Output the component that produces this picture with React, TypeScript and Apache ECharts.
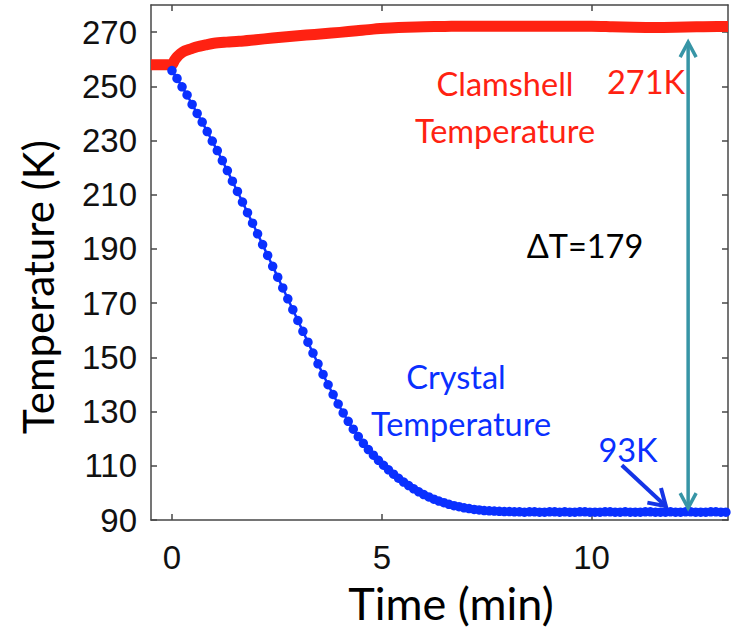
import React, { useEffect, useRef } from "react";
import * as echarts from "echarts";

// ---- Data ----
const xTickValues = [0, 5, 10];
const yTickValues = [90, 110, 130, 150, 170, 190, 210, 230, 250, 270];

// Clamshell temperature (K) vs time (min)
const clamshellTime = [-0.5, 0, 0.06, 0.12, 0.2, 0.3, 0.45, 0.6, 0.8, 1.0, 1.3, 1.6, 2.0, 2.4, 2.8, 3.2, 3.6, 4.0, 4.4, 4.8, 5.2, 5.6, 6.0, 6.5, 7.0, 7.5, 8.0, 9.0, 10.0, 10.5, 11.0, 11.5, 12.0, 12.5, 13.0, 13.25];
const clamshellTemp = [258, 258, 259.6, 260.8, 262, 263, 263.8, 264.6, 265.3, 265.9, 266.3, 266.6, 267.2, 267.8, 268.4, 268.9, 269.4, 269.9, 270.5, 271.1, 271.5, 271.8, 272.0, 272.1, 272.2, 272.2, 272.2, 272.2, 272.2, 272.0, 271.8, 271.7, 271.8, 272.0, 272.1, 272.1];

// Crystal temperature (K) vs time (min), one sample every 0.12 min
const crystalTime = [
  0, 0.12, 0.24, 0.36, 0.48, 0.6, 0.72, 0.84, 0.96, 1.08,
  1.2, 1.32, 1.44, 1.56, 1.68, 1.8, 1.92, 2.04, 2.16, 2.28,
  2.4, 2.52, 2.64, 2.76, 2.88, 3, 3.12, 3.24, 3.36, 3.48,
  3.6, 3.72, 3.84, 3.96, 4.08, 4.2, 4.32, 4.44, 4.56, 4.68,
  4.8, 4.92, 5.04, 5.16, 5.28, 5.4, 5.52, 5.64, 5.76, 5.88,
  6, 6.12, 6.24, 6.36, 6.48, 6.6, 6.72, 6.84, 6.96, 7.08,
  7.2, 7.32, 7.44, 7.56, 7.68, 7.8, 7.92, 8.04, 8.16, 8.28,
  8.4, 8.52, 8.64, 8.76, 8.88, 9, 9.12, 9.24, 9.36, 9.48,
  9.6, 9.72, 9.84, 9.96, 10.08, 10.2, 10.32, 10.44, 10.56, 10.68,
  10.8, 10.92, 11.04, 11.16, 11.28, 11.4, 11.52, 11.64, 11.76, 11.88,
  12, 12.12, 12.24, 12.36, 12.48, 12.6, 12.72, 12.84, 12.96, 13.08,
  13.2, 13.32,
];
const crystalTemp = [
  255.8, 252.9, 249.8, 246.8, 243.3, 240.0, 236.8, 233.3, 229.8, 226.3,
  222.6, 218.9, 215.0, 211.2, 207.3, 203.4, 199.5, 195.6, 191.6, 187.6,
  183.6, 179.6, 175.6, 171.6, 167.6, 163.6, 159.6, 155.6, 151.6, 147.6,
  143.7, 139.9, 136.3, 132.8, 129.5, 126.4, 123.5, 120.8, 118.3, 116.0,
  113.9, 112.0, 110.2, 108.5, 106.9, 105.4, 104.0, 102.7, 101.5, 100.4,
  99.4, 98.5, 97.7, 97.0, 96.4, 95.8, 95.3, 94.9, 94.5, 94.2,
  93.9, 93.7, 93.5, 93.4, 93.3, 93.2, 93.1, 93.1, 93.0, 93.0,
  92.9, 93.0, 93.0, 92.9, 92.9, 93.0, 93.0, 92.9, 93.0, 92.9,
  92.9, 93.0, 93.0, 92.9, 92.9, 92.9, 93.0, 93.0, 92.9, 92.9,
  93.0, 92.9, 92.9, 92.9, 93.0, 93.0, 92.9, 92.9, 92.9, 93.0,
  92.9, 92.9, 93.0, 93.0, 92.9, 92.9, 92.9, 93.0, 93.0, 92.9,
  92.9, 93.0,
];

// Annotation anchors (data coordinates)
const deltaArrow = { t: 12.3, low: 94.4, high: 266.3 };
const pointerArrow = { fromT: 10.72, fromK: 110.2, toT: 11.77, toK: 95.1 };

const RED = "#ff2212";
const BLUE = "#0a30ff";
const TEAL = "#3795a6";
const FRAME = "#474747";
const TITLE_FONT = "Lato";
const TICK_FONT = "Liberation Sans";

function axisCommon(showLabels: boolean, ticks: number[]) {
  return {
    type: "value" as const,
    axisLine: { show: true, onZero: false, lineStyle: { color: FRAME, width: 1.5 } },
    axisTick: { show: true, inside: true, length: 6, customValues: ticks, lineStyle: { color: FRAME, width: 1.5 } },
    axisLabel: showLabels
      ? { show: true, customValues: ticks, fontSize: 33, fontFamily: TICK_FONT, color: "#111" }
      : { show: false },
    splitLine: { show: false },
  };
}

function arrowHead(tip: number[], tail: number[], len: number, half: number) {
  const dx = tip[0] - tail[0];
  const dy = tip[1] - tail[1];
  const d = Math.hypot(dx, dy) || 1;
  const ux = dx / d, uy = dy / d;
  const nx = -uy, ny = ux;
  return [
    [tip[0] - len * ux + half * nx, tip[1] - len * uy + half * ny],
    [tip[0], tip[1]],
    [tip[0] - len * ux - half * nx, tip[1] - len * uy - half * ny],
  ];
}

export default function App() {
  const ref = useRef<HTMLDivElement>(null);
  useEffect(() => {
    document.body.style.margin = "0";
    if (!ref.current) return;
    const chart = echarts.init(ref.current, undefined, { renderer: "svg" });
    const xMin = -0.5, xMax = 13.25, yMin = 90, yMax = 280;
    chart.setOption({
      animation: false,
      backgroundColor: "#ffffff",
      grid: { left: 151, right: 6, top: 5, bottom: 110, containLabel: false },
      xAxis: [
        { ...axisCommon(true, xTickValues), position: "bottom", min: xMin, max: xMax,
          axisLabel: { show: true, customValues: xTickValues, fontSize: 33, fontFamily: TICK_FONT, color: "#111", margin: 21 } },
        { ...axisCommon(false, xTickValues), position: "top", min: xMin, max: xMax },
      ],
      yAxis: [
        { ...axisCommon(true, yTickValues), position: "left", min: yMin, max: yMax,
          axisLabel: { show: true, customValues: yTickValues, fontSize: 33, fontFamily: TICK_FONT, color: "#111", margin: 14 } },
        { ...axisCommon(false, yTickValues), position: "right", min: yMin, max: yMax },
      ],
      series: [
        {
          name: "Clamshell Temperature",
          type: "line",
          data: clamshellTime.map((t, i) => [t, clamshellTemp[i]]),
          showSymbol: false,
          smooth: 0.3,
          lineStyle: { color: RED, width: 11, cap: "butt", join: "round" },
          clip: true,
        },
        {
          name: "Crystal Temperature",
          type: "line",
          data: crystalTime.map((t, i) => [t, crystalTemp[i]]),
          symbol: "circle",
          symbolSize: 9.5,
          showSymbol: true,
          itemStyle: { color: BLUE },
          lineStyle: { color: BLUE, width: 2.5 },
          clip: true,
        },
      ],
    });

    const px = (t: number, k: number) => chart.convertToPixel({ xAxisIndex: 0, yAxisIndex: 0 }, [t, k]) as number[];
    const dTop = px(deltaArrow.t, deltaArrow.high);
    const dBot = px(deltaArrow.t, deltaArrow.low);
    const pFrom = px(pointerArrow.fromT, pointerArrow.fromK);
    const pTo = px(pointerArrow.toT, pointerArrow.toK);

    const txt = (text: string, x: number, y: number, fill: string, fontSize: number, extra: any = {}) => ({
      type: "text",
      x, y,
      silent: true,
      ...extra,
      style: { text, fill, fontSize, fontFamily: TITLE_FONT, align: "center", verticalAlign: "middle" },
    });

    chart.setOption({
      graphic: [
        // double-headed delta arrow
        { type: "line", shape: { x1: dTop[0], y1: dTop[1], x2: dBot[0], y2: dBot[1] }, style: { stroke: TEAL, lineWidth: 3.5 }, z: 10 },
        { type: "polyline", shape: { points: arrowHead(dTop, dBot, 15, 8) }, style: { stroke: TEAL, lineWidth: 3.5, fill: null }, z: 10 },
        { type: "polyline", shape: { points: arrowHead(dBot, dTop, 15, 8) }, style: { stroke: TEAL, lineWidth: 3.5, fill: null }, z: 10 },
        // 93K pointer arrow
        { type: "line", shape: { x1: pFrom[0], y1: pFrom[1], x2: pTo[0], y2: pTo[1] }, style: { stroke: "#1434e6", lineWidth: 4 }, z: 10 },
        { type: "polyline", shape: { points: arrowHead(pTo, pFrom, 16, 10) }, style: { stroke: "#1434e6", lineWidth: 4, fill: null }, z: 10 },
        // texts
        txt("Clamshell", 505, 83, RED, 32.5),
        txt("Temperature", 505, 130, RED, 32.5),
        txt("271K", 646, 81, RED, 32.5),
        txt("ΔT=179", 585, 245, "#000", 32.5),
        txt("Crystal", 456, 376, BLUE, 32.5),
        txt("Temperature", 461, 423, BLUE, 32.5),
        txt("93K", 628, 449, BLUE, 32.5),
        txt("Time (min)", 451, 603, "#000", 45),
        txt("Temperature (K)", 38, 287, "#000", 42, { rotation: Math.PI / 2 }),
      ],
    });

    return () => chart.dispose();
  }, []);
  return <div ref={ref} style={{ width: 734, height: 630 }} />;
}
